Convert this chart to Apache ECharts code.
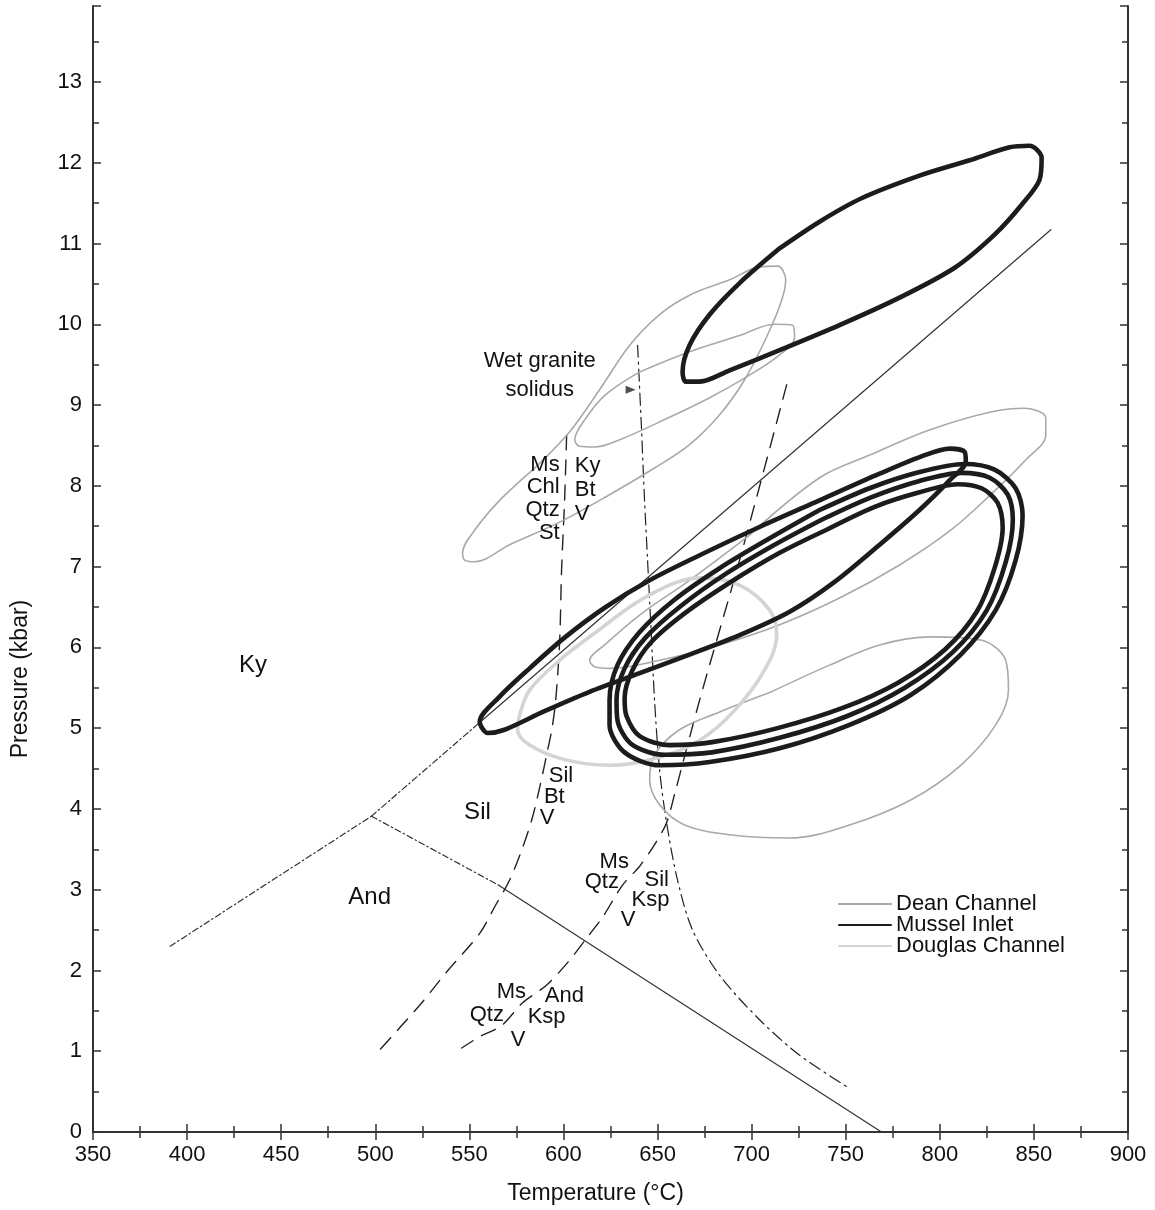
<!DOCTYPE html>
<html><head><meta charset="utf-8">
<script src="https://cdn.jsdelivr.net/npm/echarts/dist/echarts.min.js"></script>
<style>html,body{margin:0;padding:0;background:#fff}#c{width:1155px;height:1210px}</style>
</head><body><div id="c"></div>
<script>
// ---------- axis ticks ----------
const tempTicks = [350,400,450,500,550,600,650,700,750,800,850,900];
const pressTicks = [0,1,2,3,4,5,6,7,8,9,10,11,12,13];
const pressTop = 13.94;

// ---------- phase boundaries [T (°C), P (kbar)] ----------
const kyAndLine = [[391,2.30],[498,3.91]];
const kySilLowLine = [[498,3.91],[555,5.06]];
const kySilLine = [[555,5.06],[859,11.17]];
const silAndLowLine = [[498,3.91],[566,3.05]];
const silAndLine = [[566,3.05],[769,0]];

// ---------- reactions ----------
const wetSolidus = [[639.4,9.74],[641.5,8.69],[643.1,7.82],[644.7,7.08],[646.3,6.34],[648.4,5.35],[651.1,4.48],[654.8,3.83],[660.6,3.12],[668.6,2.50],[683.0,1.94],[704.2,1.39],[725.5,0.95],[752.0,0.54]];
const msChlReaction = [[601.7,8.63],[600.6,7.82],[599.0,6.96],[598.0,6.09],[595.9,5.35],[593.8,4.98],[591.6,4.73],[587.4,4.27],[583.1,3.86],[577.8,3.49],[571.4,3.12],[564.0,2.81],[555.5,2.46],[537.9,1.98],[523.6,1.57],[501.3,0.99]];
const msQtzReaction = [[718.6,9.25],[693.6,7.08],[672.4,5.35],[659.6,4.23],[654.8,3.83],[649.0,3.58],[640.5,3.29],[631.5,3.06],[620.8,2.66],[612.3,2.40],[602.3,2.10],[591.1,1.82],[578.3,1.60],[567.2,1.32],[555.5,1.18],[545.9,1.04]];
const solidusArrow = [[635.7,9.19]];

// ---------- Dean Channel loops ----------
const dean1 = [[584.7,8.22],[603.3,8.67],[619.2,9.19],[635.2,9.74],[651.1,10.12],[667.0,10.36],[688.3,10.55],[704.2,10.71],[713.8,10.72],[718.1,10.55],[716.0,10.30],[708.5,9.87],[696.2,9.31],[683.0,8.88],[667.0,8.51],[648.4,8.22],[624.5,7.89],[598.0,7.55],[571.4,7.27],[552.8,7.06],[547.5,7.08],[546.4,7.17],[552.8,7.45],[566.1,7.82],[584.7,8.22]];
const dean2 = [[640.5,9.41],[667.0,9.66],[693.6,9.86],[712.2,10.00],[721.7,9.99],[722.8,9.83],[714.9,9.62],[698.9,9.37],[677.7,9.09],[653.8,8.82],[629.9,8.57],[616.6,8.48],[608.6,8.49],[606.0,8.57],[611.4,8.82],[622.0,9.12],[640.5,9.41]];
const dean3 = [[698.9,7.39],[736.1,8.10],[762.7,8.38],[794.5,8.69],[826.4,8.91],[845.0,8.96],[856.3,8.84],[856.3,8.63],[845.6,8.32],[827.0,7.89],[805.8,7.45],[778.6,7.02],[746.7,6.61],[714.9,6.28],[683.0,6.03],[651.1,5.84],[624.5,5.74],[616.6,5.76],[613.9,5.84],[621.9,6.03],[640.5,6.40],[667.0,6.83],[698.9,7.39]];
const dean4 = [[709.6,5.44],[741.4,5.78],[768.0,6.03],[795.2,6.13],[821.7,6.09],[835.0,5.84],[836.5,5.47],[829.7,5.04],[811.1,4.54],[784.5,4.11],[752.0,3.80],[720.2,3.64],[688.3,3.68],[664.4,3.80],[651.1,4.05],[645.8,4.36],[648.4,4.67],[661.7,4.98],[683.0,5.20],[709.6,5.44]];

// ---------- Mussel Inlet loops ----------
const mussel1 = [[714.9,10.94],[736.1,11.27],[758.4,11.56],[789.2,11.84],[815.8,12.03],[837.1,12.19],[847.7,12.21],[854.1,12.06],[853.0,11.79],[843.5,11.48],[829.1,11.11],[807.9,10.70],[778.6,10.33],[746.7,9.99],[714.9,9.68],[688.3,9.43],[672.4,9.29],[665.0,9.29],[663.3,9.41],[667.0,9.74],[677.7,10.12],[693.6,10.51],[714.9,10.94]];
const mussel2 = [[667.0,5.91],[640.5,5.68],[613.9,5.45],[589.9,5.21],[568.7,4.98],[559.7,4.94],[555.5,5.08],[566.1,5.39],[582.0,5.74],[600.6,6.12],[621.9,6.49],[645.8,6.83],[672.4,7.14],[704.2,7.49],[736.1,7.82],[768.0,8.15],[792.0,8.38],[805.3,8.46],[813.2,8.42],[813.8,8.30],[805.3,8.07],[789.2,7.70],[768.0,7.27],[744.1,6.81],[720.2,6.44],[693.6,6.15],[667.0,5.91]];
const mussel3 = [[736.1,7.70],[762.7,7.97],[789.2,8.17],[813.1,8.27],[829.1,8.20],[840.3,7.97],[844.0,7.64],[840.3,7.08],[829.7,6.46],[811.1,5.91],[784.5,5.41],[752.0,5.04],[714.9,4.75],[677.7,4.58],[651.1,4.54],[632.5,4.70],[624.5,5.04],[624.5,5.35],[628.7,5.78],[640.5,6.19],[659.0,6.59],[683.0,6.98],[709.6,7.35],[736.1,7.70]];
const mussel4 = [[737.2,7.58],[763.8,7.86],[789.2,8.06],[811.6,8.16],[826.5,8.10],[836.1,7.89],[838.8,7.58],[835.1,7.06],[825.0,6.46],[806.9,5.94],[781.4,5.50],[750.9,5.15],[714.9,4.88],[678.8,4.70],[653.8,4.67],[636.3,4.80],[628.7,5.10],[628.2,5.35],[632.5,5.74],[643.6,6.12],[661.7,6.50],[685.6,6.90],[712.2,7.27],[737.2,7.58]];
const mussel5 = [[739.3,7.45],[765.4,7.74],[789.2,7.92],[809.4,8.02],[822.2,7.97],[830.7,7.79],[833.4,7.48],[829.1,6.98],[819.6,6.44],[802.6,5.97],[777.6,5.56],[748.4,5.25],[713.8,5.00],[679.9,4.83],[656.4,4.79],[640.5,4.90],[633.5,5.15],[632.5,5.37],[636.7,5.72],[646.8,6.07],[664.9,6.43],[688.3,6.80],[714.9,7.17],[739.3,7.45]];

// ---------- Douglas Channel loop ----------
const douglas1 = [[619.2,6.22],[645.8,6.65],[672.4,6.86],[693.6,6.77],[709.6,6.46],[713.3,6.15],[706.9,5.72],[691.0,5.22],[672.4,4.85],[651.1,4.64],[624.5,4.54],[600.6,4.61],[582.0,4.79],[575.6,4.98],[576.7,5.16],[582.0,5.47],[598.0,5.84],[619.2,6.22]];

// ---------- text annotations [text, T, P] ----------
const fieldLabels = [['Ky',435.0,5.78],['Sil',554.3,3.96],['And',497.0,2.91]];
const noteLabels = [['Wet granite\nsolidus',587.4,9.37]];
const rightLabels = [['Ms',598.0,8.26],['Chl',598.0,7.99],['Qtz',598.0,7.70],['St',598.0,7.42]];
const leftLabels = [['Ky',606.0,8.25],['Bt',606.0,7.95],['V',606.0,7.65],
  ['Sil',592.2,4.41],['Bt',589.6,4.15],['V',587.4,3.89],
  ['Ms',619.2,3.34],['Qtz',611.3,3.10],['Sil',643.1,3.12],['Ksp',636.2,2.87],['V',630.4,2.62],
  ['Ms',564.5,1.73],['Qtz',550.2,1.45],['And',590.1,1.68],['Ksp',581.0,1.42],['V',572.0,1.14]];

const legendNames = ['Dean Channel','Mussel Inlet','Douglas Channel'];

// ---------- styles ----------
const FONT = 'Liberation Sans, Arial, Helvetica, sans-serif';
const TXT = '#111';
const deanStyle = {color:'#a9a9a9', width:1.6};
const musselStyle = {color:'#1c1c1c', width:4.6};
const douglasStyle = {color:'#d4d4d4', width:3.6};

function curve(name, data, style, z, smooth) {
  return {type:'line', name:name, data:data, symbol:'none', showSymbol:false, smooth:smooth,
    itemStyle:{color:style.color}, emphasis:{disabled:true},
    lineStyle:Object.assign({cap:'round', join:'round'}, style), z:z, silent:true, animation:false};
}
function textSeries(list, align, size) {
  return {type:'scatter', data:list.map(d => ({name:d[0], value:[d[1], d[2]]})), symbolSize:0,
    itemStyle:{color:TXT, opacity:1}, z:20, silent:true, animation:false, emphasis:{disabled:true},
    label:{show:true, position:[0,0], formatter:'{b}', align:align, verticalAlign:'middle',
      fontSize:size, fontFamily:FONT, color:TXT, opacity:1, textBorderWidth:0, lineHeight:29}};
}

const series = [
  curve('b1', kyAndLine, {color:'#333', width:1.2, type:[6,3,1.5,3]}, 3, false),
  curve('b2', kySilLowLine, {color:'#333', width:1.2, type:[6,3,1.5,3]}, 3, false),
  curve('b3', kySilLine, {color:'#333', width:1.2}, 3, false),
  curve('b4', silAndLowLine, {color:'#333', width:1.2, type:[6,3,1.5,3]}, 3, false),
  curve('b5', silAndLine, {color:'#333', width:1.2}, 3, false),
  curve('r1', wetSolidus, {color:'#222', width:1.2, type:[12,5,2,5]}, 3, 0.3),
  curve('r2', msChlReaction, {color:'#222', width:1.4, type:[15,10]}, 3, 0.3),
  curve('r3', msQtzReaction, {color:'#222', width:1.4, type:[15,10]}, 3, 0.3),
  {type:'scatter', data:solidusArrow, symbol:'triangle', symbolSize:[8,10], symbolRotate:-90,
    itemStyle:{color:'#222'}, z:5, silent:true, animation:false},
  curve('Dean Channel', dean1, deanStyle, 4, 0.35),
  curve('Dean Channel', dean2, deanStyle, 4, 0.35),
  curve('Dean Channel', dean3, deanStyle, 4, 0.35),
  curve('Dean Channel', dean4, deanStyle, 4, 0.35),
  curve('Douglas Channel', douglas1, douglasStyle, 5, 0.35),
  curve('Mussel Inlet', mussel1, musselStyle, 6, 0.3),
  curve('Mussel Inlet', mussel2, musselStyle, 6, 0.3),
  curve('Mussel Inlet', mussel3, musselStyle, 6, 0.3),
  curve('Mussel Inlet', mussel4, musselStyle, 6, 0.3),
  curve('Mussel Inlet', mussel5, musselStyle, 6, 0.3),
  textSeries(fieldLabels, 'center', 24),
  textSeries(noteLabels, 'center', 22),
  textSeries(rightLabels, 'right', 22),
  textSeries(leftLabels, 'left', 22)
];

const axisLineStyle = {show:true, lineStyle:{color:'#333', width:2}};
const tickStyle = {show:true, inside:true, length:8, lineStyle:{color:'#333', width:1.5}};
const minorStyle = {show:true, splitNumber:2, length:6, lineStyle:{color:'#333', width:1.5}};

const chart = echarts.init(document.getElementById('c'), null, {renderer:'canvas'});
chart.setOption({
  backgroundColor:'#fff',
  animation:false,
  grid:{left:93, right:27, top:6, bottom:78, containLabel:false},
  legend:{data:legendNames, orient:'vertical', left:838, top:893, padding:0, itemWidth:52, itemHeight:2, itemGap:-1,
    selectedMode:false, itemStyle:{opacity:0, borderWidth:0},
    textStyle:{fontSize:22, fontFamily:FONT, color:TXT, lineHeight:21}},
  xAxis:[
    {type:'value', min:tempTicks[0], max:tempTicks[tempTicks.length-1], interval:50, position:'bottom',
      axisLine:axisLineStyle, axisTick:tickStyle, minorTick:minorStyle, splitLine:{show:false},
      axisLabel:{fontSize:22, fontFamily:FONT, color:TXT, margin:12},
      name:'Temperature (°C)', nameLocation:'middle', nameGap:50,
      nameTextStyle:{fontSize:23, fontFamily:FONT, color:TXT, padding:[0,30,0,0]}},
    {type:'value', min:tempTicks[0], max:tempTicks[tempTicks.length-1], interval:50, position:'top',
      axisLine:axisLineStyle, axisTick:tickStyle, minorTick:minorStyle, splitLine:{show:false},
      axisLabel:{show:false}}
  ],
  yAxis:[
    {type:'value', min:pressTicks[0], max:pressTop, interval:1, position:'left',
      axisLine:axisLineStyle, axisTick:tickStyle, minorTick:minorStyle, splitLine:{show:false},
      axisLabel:{fontSize:22, fontFamily:FONT, color:TXT, margin:11, showMaxLabel:false,
        formatter:v => pressTicks.indexOf(v) >= 0 ? String(v) : ''},
      name:'Pressure (kbar)', nameLocation:'middle', nameGap:61, nameRotate:90,
      nameTextStyle:{fontSize:23, fontFamily:FONT, color:TXT, padding:[0,220,0,0]}},
    {type:'value', min:pressTicks[0], max:pressTop, interval:1, position:'right',
      axisLine:axisLineStyle, axisTick:tickStyle, minorTick:minorStyle, splitLine:{show:false},
      axisLabel:{show:false}}
  ],
  series:series
});
</script>
</body></html>
